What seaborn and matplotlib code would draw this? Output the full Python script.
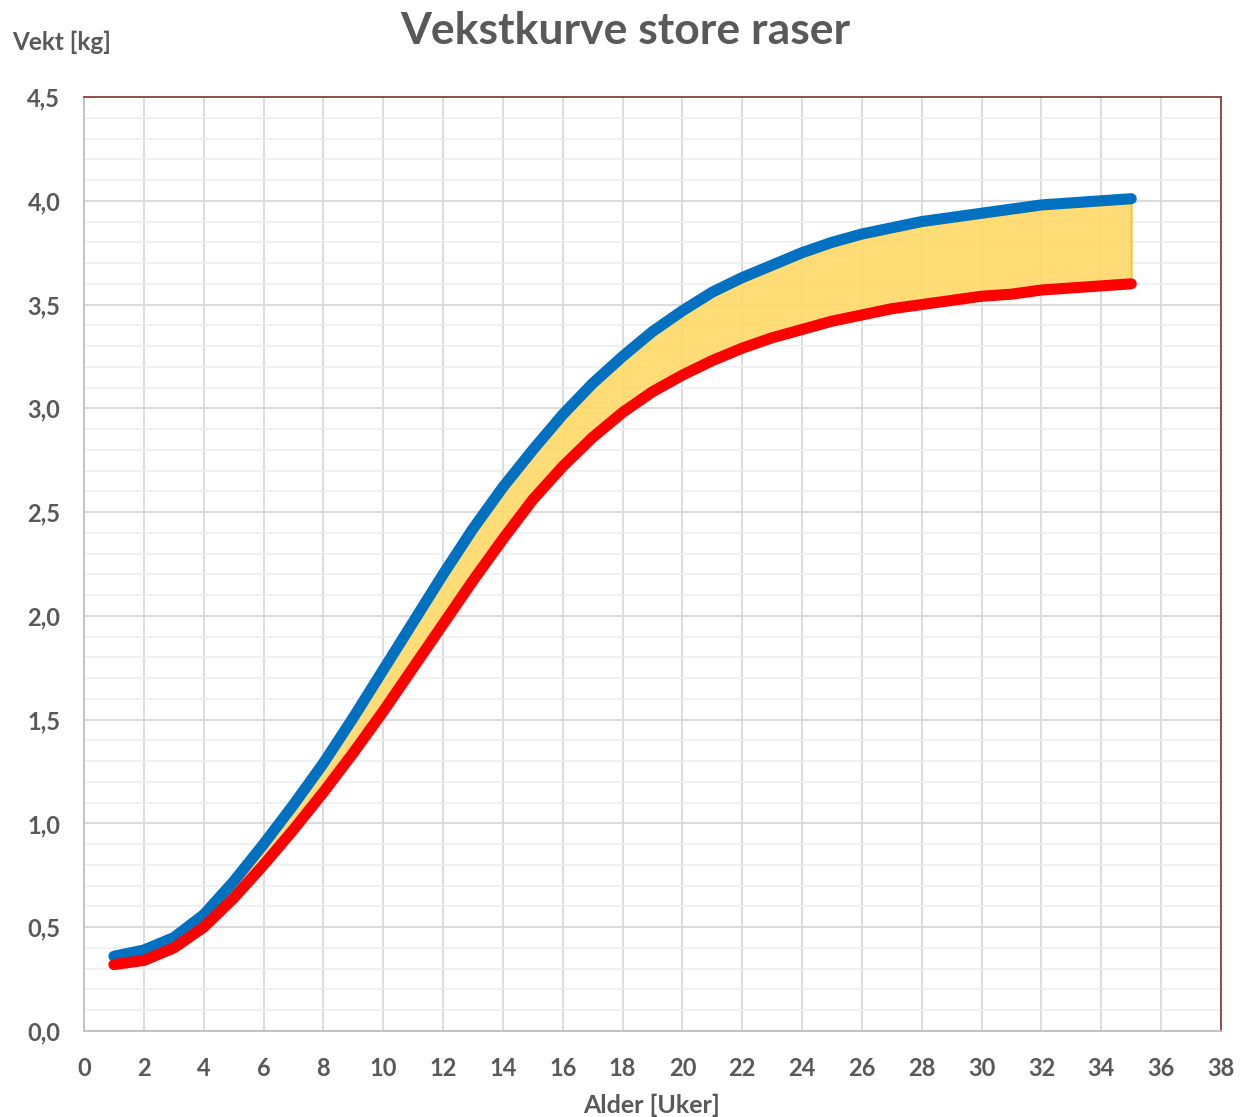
import numpy as np
import pandas as pd
import matplotlib
matplotlib.use("Agg")
import matplotlib.pyplot as plt
from matplotlib.ticker import MultipleLocator, FuncFormatter
import seaborn as sns

# age in weeks and upper / lower weight limits (kg)
weeks = list(range(1, 36))
upper = [0.36, 0.39, 0.45, 0.56, 0.72, 0.90, 1.09, 1.29, 1.51, 1.74,
         1.97, 2.20, 2.42, 2.62, 2.80, 2.97, 3.12, 3.25, 3.37, 3.47,
         3.56, 3.63, 3.69, 3.75, 3.80, 3.84, 3.87, 3.90, 3.92, 3.94,
         3.96, 3.98, 3.99, 4.00, 4.01]
lower = [0.32, 0.34, 0.40, 0.50, 0.64, 0.80, 0.97, 1.15, 1.34, 1.54,
         1.75, 1.96, 2.17, 2.37, 2.56, 2.72, 2.86, 2.98, 3.08, 3.16,
         3.23, 3.29, 3.34, 3.38, 3.42, 3.45, 3.48, 3.50, 3.52, 3.54,
         3.55, 3.57, 3.58, 3.59, 3.60]

title = "Vekstkurve store raser"
xlabel = "Alder [Uker]"
ylabel = "Vekt [kg]"

df = pd.DataFrame({"uke": weeks, "ovre": upper, "nedre": lower})

sns.set_style("white")
plt.rcParams['font.family'] = ['Lato', 'DejaVu Sans']

text_col = "#595959"

fig = plt.figure(figsize=(12.45, 11.17), dpi=100)
ax = fig.add_axes([84 / 1245, 1 - 1031 / 1117, (1221 - 84) / 1245, (1031 - 97) / 1117])

# band between the limits
ax.fill_between(df["uke"], df["nedre"] + 0.02, df["ovre"] - 0.02,
                facecolor="#FFD966", edgecolor="#FFC000", linewidth=1.2, alpha=0.9, zorder=2)

sns.lineplot(data=df, x="uke", y="ovre", color="#0070C0", linewidth=8,
             solid_capstyle="round", solid_joinstyle="round", ax=ax, zorder=3)
sns.lineplot(data=df, x="uke", y="nedre", color="#FF0000", linewidth=8,
             solid_capstyle="round", solid_joinstyle="round", ax=ax, zorder=3)

ax.set_xlim(0, 38)
ax.set_ylim(0, 4.5)
ax.xaxis.set_major_locator(MultipleLocator(2))
ax.yaxis.set_major_locator(MultipleLocator(0.5))
ax.yaxis.set_minor_locator(MultipleLocator(0.1))
ax.yaxis.set_major_formatter(FuncFormatter(lambda v, p: f"{v:.1f}".replace(".", ",")))

ax.grid(True, which="major", axis="both", color="#D9D9D9", linewidth=1.3, zorder=0)
ax.grid(True, which="minor", axis="y", color="#EDEDED", linewidth=1.1, zorder=0)
ax.set_axisbelow(True)

ax.tick_params(axis="both", which="both", length=0)
ax.tick_params(axis="x", pad=19, labelsize=17, labelcolor=text_col)
ax.tick_params(axis="y", pad=17, labelsize=17, labelcolor=text_col)
for lab in ax.get_xticklabels() + ax.get_yticklabels():
    lab.set_fontweight("bold")

for side in ["left", "bottom"]:
    ax.spines[side].set_color("#BFBFBF")
    ax.spines[side].set_linewidth(1.3)
for side in ["top", "right"]:
    ax.spines[side].set_color("#8B4040")
    ax.spines[side].set_linewidth(1.3)

ax.set_xlabel("")
ax.set_ylabel("")
fig.text(652 / 1245, 1 - 1105 / 1117, xlabel, ha="center", va="center",
         fontsize=18, fontweight="bold", color=text_col)
fig.text(12 / 1245, 1 - 42 / 1117, ylabel, ha="left", va="center",
         fontsize=17.5, fontweight="bold", color=text_col)
fig.text(625 / 1245, 1 - 31 / 1117, title, ha="center", va="center",
         fontsize=32, fontweight="bold", color=text_col)

fig.savefig("out.png", dpi=100)
